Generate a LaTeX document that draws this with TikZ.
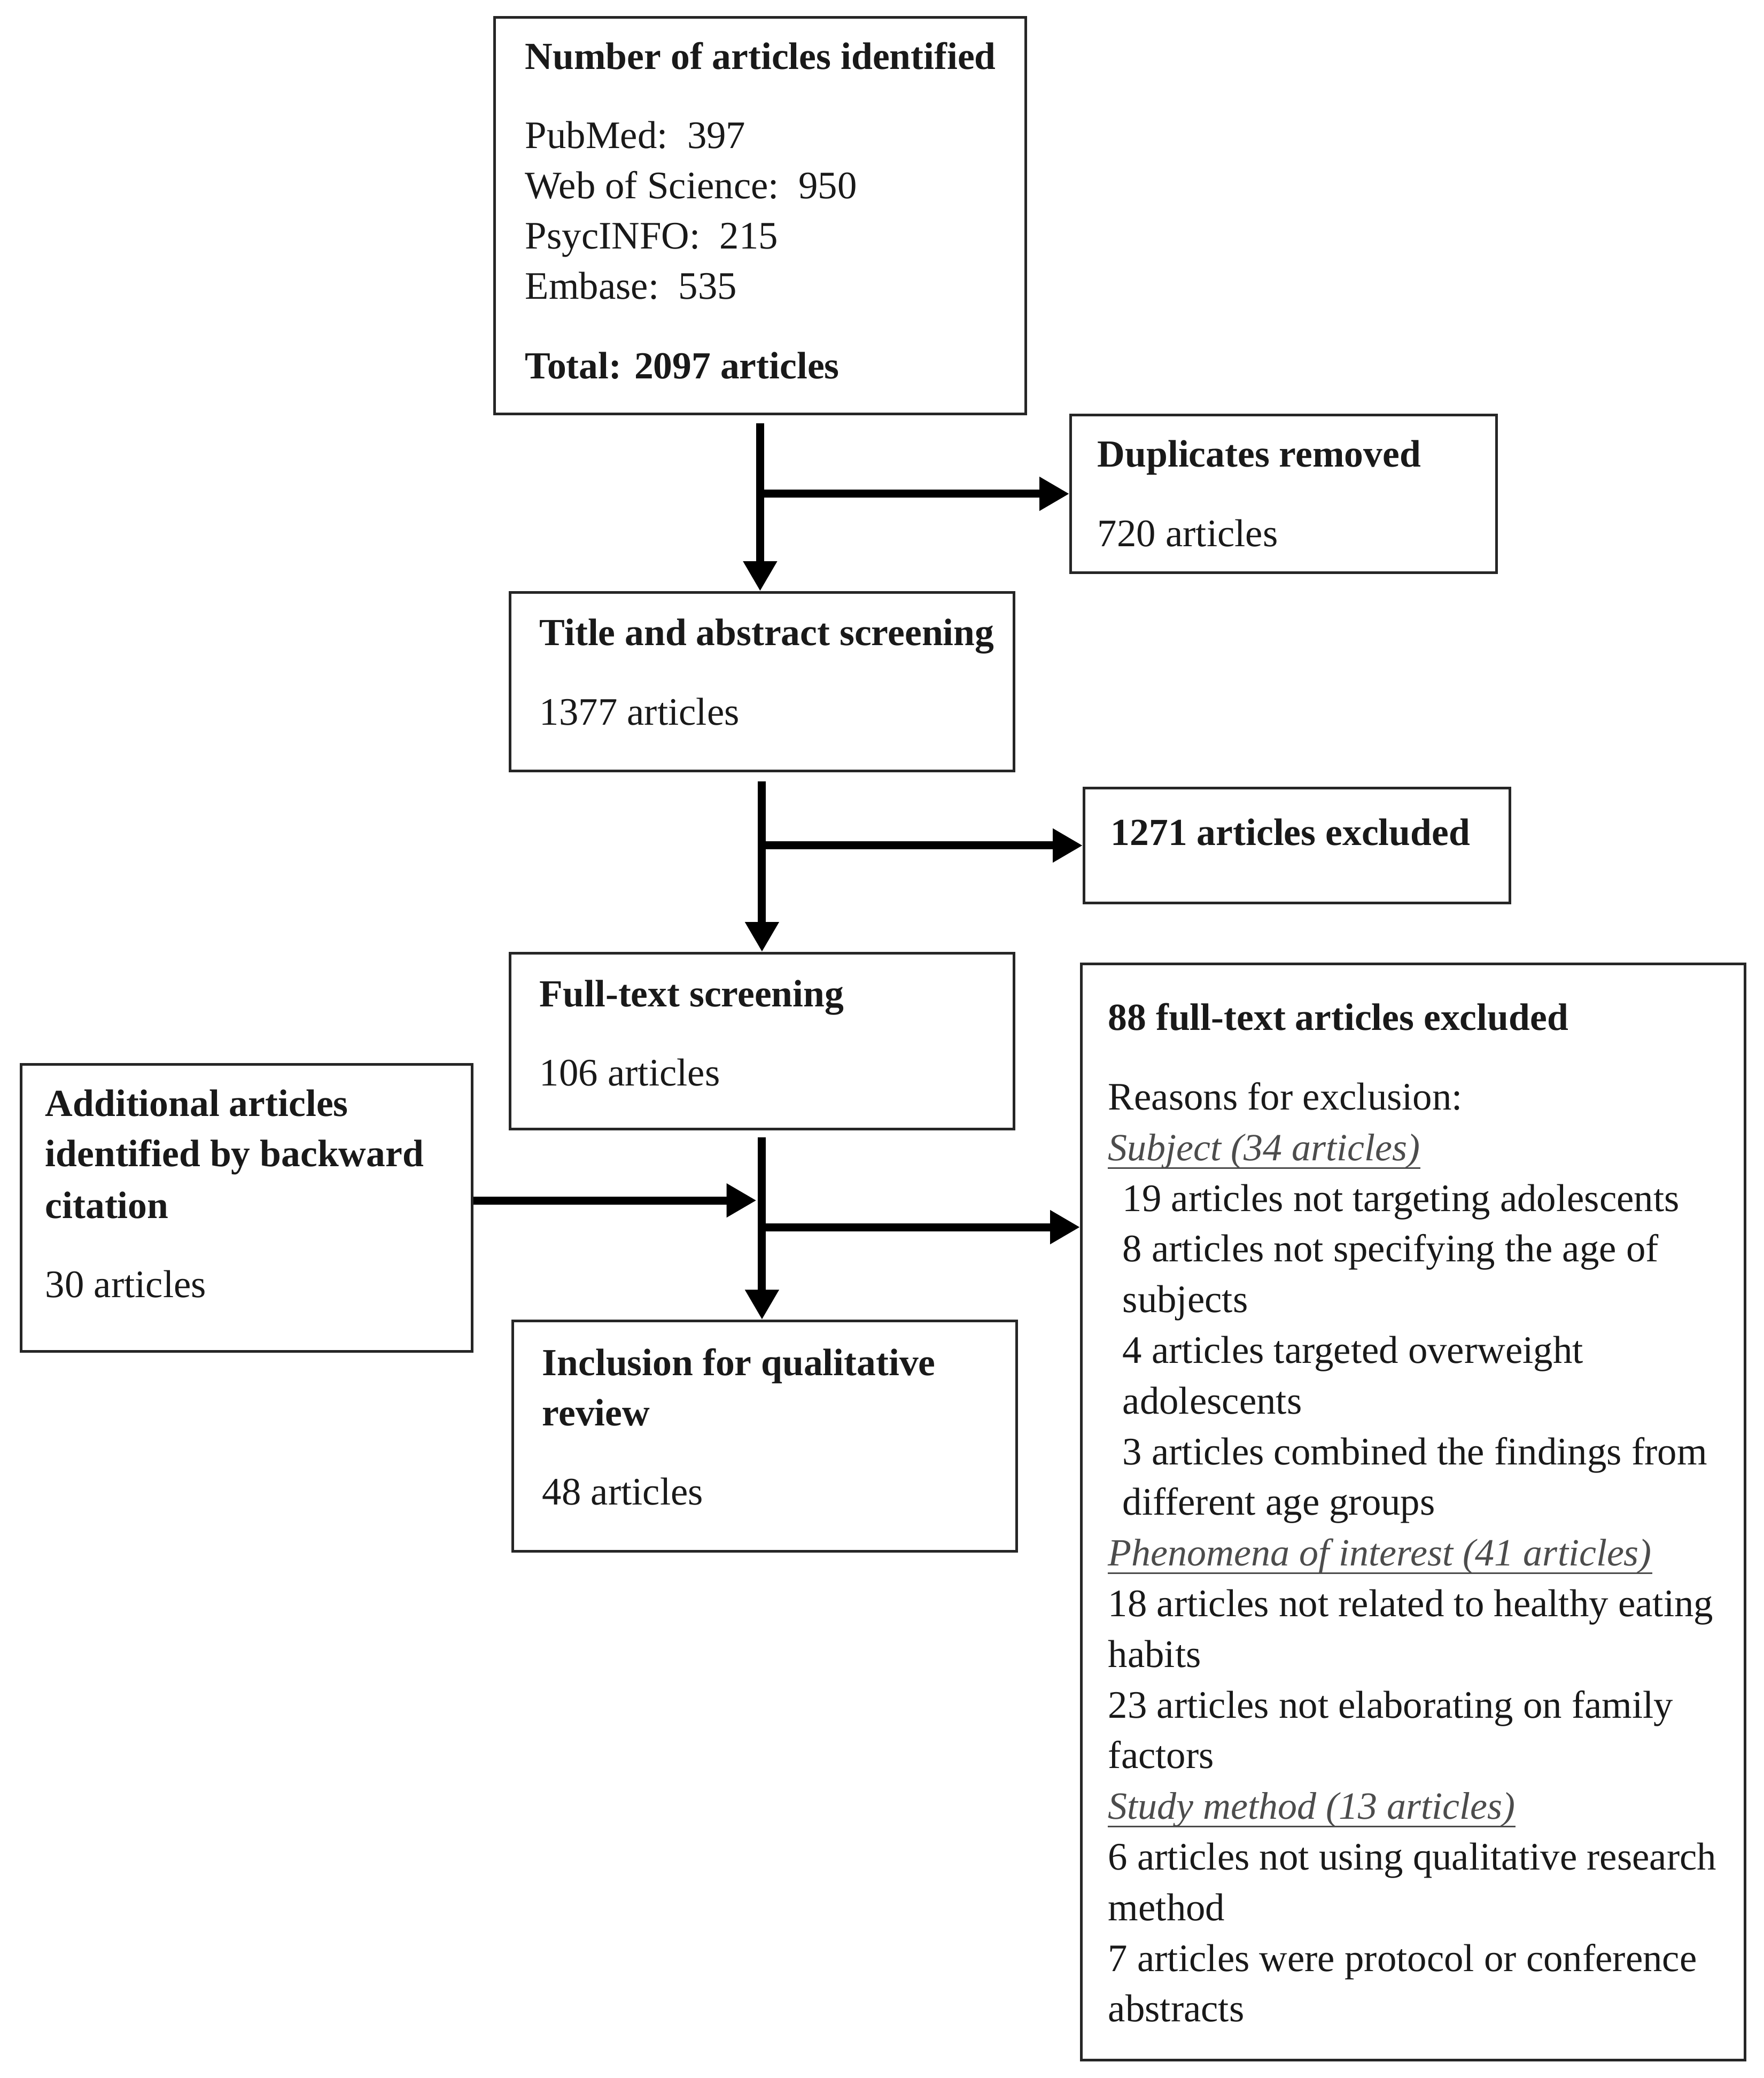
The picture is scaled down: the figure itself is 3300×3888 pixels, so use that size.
\documentclass[tikz,border=0pt]{standalone}
\usepackage{fontspec}
\setmainfont{Liberation Serif}
\usetikzlibrary{arrows.meta,calc}
\begin{document}
\begin{tikzpicture}[x=0.25pt,y=-0.25pt,
 box/.style={draw=black!85,line width=1.2pt,inner sep=0pt,anchor=north west},
 txt/.style={anchor=base west,inner sep=0pt,yshift=-1.4pt,text=black!90,font=\fontsize{18.2}{20}\selectfont},
 hd/.style={txt,font=\fontsize{17.9}{20}\selectfont\bfseries},
 subhd/.style={txt,text=black!70,font=\fontsize{18}{20}\selectfont\itshape},
 uline/.style={black!70,line width=0.8pt},
 arr/.style={line width=3.75pt,-{Triangle[length=14pt,width=15pt]}}]
\useasboundingbox (0,0) rectangle (3300,3888);
% boxes
\node[box,minimum width=248.5pt,minimum height=185.5pt] (n1) at (923,30) {};
\node[box,minimum width=199.25pt,minimum height=73.75pt] (dup) at (2001,774) {};
\node[box,minimum width=235.75pt,minimum height=83.5pt] (title) at (952,1106) {};
\node[box,minimum width=199.25pt,minimum height=53.75pt] (ex1) at (2026,1472) {};
\node[box,minimum width=235.75pt,minimum height=82.25pt] (full) at (952,1781) {};
\node[box,minimum width=211pt,minimum height=134.25pt] (add) at (37,1989) {};
\node[box,minimum width=235.75pt,minimum height=107.75pt] (incl) at (957,2469) {};
\node[box,minimum width=310.5pt,minimum height=512.75pt] (ex88) at (2021,1801) {};
% texts box 1
\node[hd] (t1a) at (982,124) {Number of articles identified};
\node[txt] (t1b) at (982,272) {PubMed:\hspace{0.5em}397};
\node[txt] (t1c) at (982,366) {Web of Science:\hspace{0.5em}950};
\node[txt] (t1d) at (982,460) {PsycINFO:\hspace{0.5em}215};
\node[txt] (t1e) at (982,554) {Embase:\hspace{0.5em}535};
\node[hd] (t1f) at (982,703) {Total: 2097 articles};
% duplicates
\node[hd] (t2a) at (2053,868) {Duplicates removed};
\node[txt] (t2b) at (2053,1017) {720 articles};
% title screening
\node[hd] (t3a) at (1009,1202) {Title and abstract screening};
\node[txt] (t3b) at (1009,1351) {1377 articles};
% excluded 1271
\node[hd] (t4a) at (2078,1576) {1271 articles excluded};
% full text
\node[hd] (t5a) at (1009,1878) {Full-text screening};
\node[txt] (t5b) at (1009,2026) {106 articles};
% additional
\node[hd] (t6a) at (84,2083) {Additional articles};
\node[hd] (t6b) at (84,2177) {identified by backward};
\node[hd] (t6c) at (84,2274) {citation};
\node[txt] (t6d) at (84,2422) {30 articles};
% inclusion
\node[hd] (t7a) at (1014,2568) {Inclusion for qualitative};
\node[hd] (t7b) at (1014,2662) {review};
\node[txt] (t7c) at (1014,2810) {48 articles};
% 88 excluded
\node[hd] (t8a) at (2073,1922) {88 full-text articles excluded};
\node[txt] (t8b) at (2073,2071) {Reasons for exclusion:};
\node[subhd] (s1) at (2073,2166) {Subject (34 articles)};
\node[txt] (t8c) at (2100,2261) {19 articles not targeting adolescents};
\node[txt] (t8d) at (2100,2355) {8 articles not specifying the age of};
\node[txt] (t8e) at (2100,2450) {subjects};
\node[txt] (t8f) at (2100,2545) {4 articles targeted overweight};
\node[txt] (t8g) at (2100,2640) {adolescents};
\node[txt] (t8h) at (2100,2735) {3 articles combined the findings from};
\node[txt] (t8i) at (2100,2829) {different age groups};
\node[subhd] (s2) at (2073,2924) {Phenomena of interest (41 articles)};
\node[txt] (t8j) at (2073,3019) {18 articles not related to healthy eating};
\node[txt] (t8k) at (2073,3114) {habits};
\node[txt] (t8l) at (2073,3209) {23 articles not elaborating on family};
\node[txt] (t8m) at (2073,3303) {factors};
\node[subhd] (s3) at (2073,3398) {Study method (13 articles)};
\node[txt] (t8n) at (2073,3493) {6 articles not using qualitative research};
\node[txt] (t8o) at (2073,3588) {method};
\node[txt] (t8p) at (2073,3683) {7 articles were protocol or conference};
\node[txt] (t8q) at (2073,3777) {abstracts};
\foreach \s in {s1,s2,s3}
  \draw[uline] ($(\s.base west)+(0,14)$) -- ($(\s.base east)+(0,14)$);
% connectors
\draw[arr] ($(n1.south)+(0,15)$) -- (n1.south |- title.north);
\draw[arr] (n1.south |- dup.west) -- (dup.west);
\draw[arr] ($(title.south)+(0,17)$) -- (title.south |- full.north);
\draw[arr] (title.south |- ex1.west) -- (ex1.west);
\draw[arr] ($(full.south)+(0,13)$) -- (full.south |- incl.north);
\coordinate (jl) at (1423.5,2246);
\coordinate (jr) at (1423.5,2296);
\draw[arr] (jl -| add.east) -- ($(jl)+(-8,0)$);
\draw[arr] (jr) -- (jr -| ex88.west);
\end{tikzpicture}
\end{document}
